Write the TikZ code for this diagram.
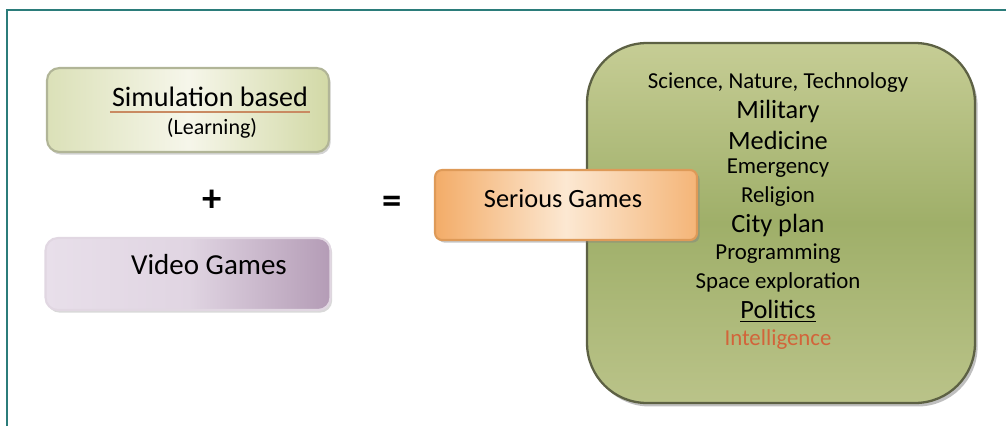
\documentclass[tikz,border=0pt]{standalone}
\usepackage{fontspec}
\setmainfont{Carlito}
\usetikzlibrary{shadows}

\definecolor{frameteal}{HTML}{2B7C7A}
\definecolor{simlight}{HTML}{F6F6EA}
\definecolor{simgreen}{HTML}{D2D9A6}
\definecolor{vidlight}{HTML}{E8DFEA}
\definecolor{vidmauve}{HTML}{B49CB6}
\definecolor{serlight}{HTML}{FCE8D2}
\definecolor{serorange}{HTML}{F3AC68}
\definecolor{olivetop}{HTML}{C6CD95}
\definecolor{olivemid}{HTML}{9FAF69}
\definecolor{olivebot}{HTML}{BAC389}
\definecolor{ulbrown}{HTML}{C98A62}
\definecolor{intred}{HTML}{D2643A}

\begin{document}
\begin{tikzpicture}[x=0.02cm, y=-0.02cm,
    card/.style={rounded corners=7pt, line width=1.2pt, inner sep=0pt},
    sign/.style={font=\fontsize{22}{22}\selectfont\bfseries},
    big/.style={font=\fontsize{15}{15}\selectfont},
    small/.style={font=\fontsize{13}{13}\selectfont}]
  \useasboundingbox (0,0) rectangle (1006,426);
  % frame along the top and left edge
  \draw[frameteal, line width=1.2pt] (7,426) -- (7,10) -- (1006,10);

  % the two ingredients
  \node[card, draw=simgreen!60!gray, left color=simgreen!80!white,
        right color=simgreen, middle color=simlight,
        minimum width=5.64cm, minimum height=1.68cm,
        drop shadow={shadow xshift=1pt, shadow yshift=-1.5pt, opacity=0.35}]
        (sim) at (188,110) {};
  \node[font=\fontsize{16}{16}\selectfont, inner sep=1pt] (simtitle) at (210,97)
        {Simulation based};
  \draw[ulbrown, line width=1.3pt]
        ([yshift=-3pt]simtitle.base west) -- ([yshift=-3pt]simtitle.base east);
  \node[font=\fontsize{12.5}{12.5}\selectfont] (simsub) at (212,128) {(Learning)};

  \node[sign] (plus) at (212,201) {+};

  \node[card, draw=vidmauve!40!white, left color=vidlight, right color=vidmauve,
        middle color=vidlight!85!vidmauve, minimum width=5.7cm, minimum height=1.44cm,
        drop shadow={shadow xshift=1pt, shadow yshift=-1.5pt, opacity=0.3}]
        (video) at (188,274) {};
  \node[font=\fontsize{16.5}{16.5}\selectfont] (videotxt) at (209,265) {Video Games};

  % the fields it is used in
  \node[draw=olivebot!50!black, line width=1.3pt, rounded corners=34pt,
        top color=olivetop, bottom color=olivebot, middle color=olivemid,
        minimum width=7.76cm, minimum height=7.2cm,
        drop shadow={shadow xshift=1.5pt, shadow yshift=-2pt, opacity=0.5}]
        (fields) at (781,223) {};
  \foreach \txt/\kind [count=\i] in {{Science, Nature, Technology}/small, Military/big,
      Medicine/big, Emergency/small, Religion/small, City plan/big, Programming/small,
      Space exploration/small, \underline{Politics}/big, \textcolor{intred}{Intelligence}/small}
    \node[\kind] (field\i) at (778,{83+28.5*(\i-1)}) {\txt};

  \node[sign] (equals) at (392,205) {=};

  \node[card, rounded corners=4pt, draw=serorange!60!brown, left color=serorange,
        right color=serorange!85!serlight, middle color=serlight,
        minimum width=5.24cm, minimum height=1.4cm,
        drop shadow={shadow xshift=1.5pt, shadow yshift=-1.5pt, opacity=0.45}]
        (serious) at (566,205) {};
  \node[font=\fontsize{15}{15}\selectfont] (serioustxt) at (563,199) {Serious Games};
\end{tikzpicture}
\end{document}
